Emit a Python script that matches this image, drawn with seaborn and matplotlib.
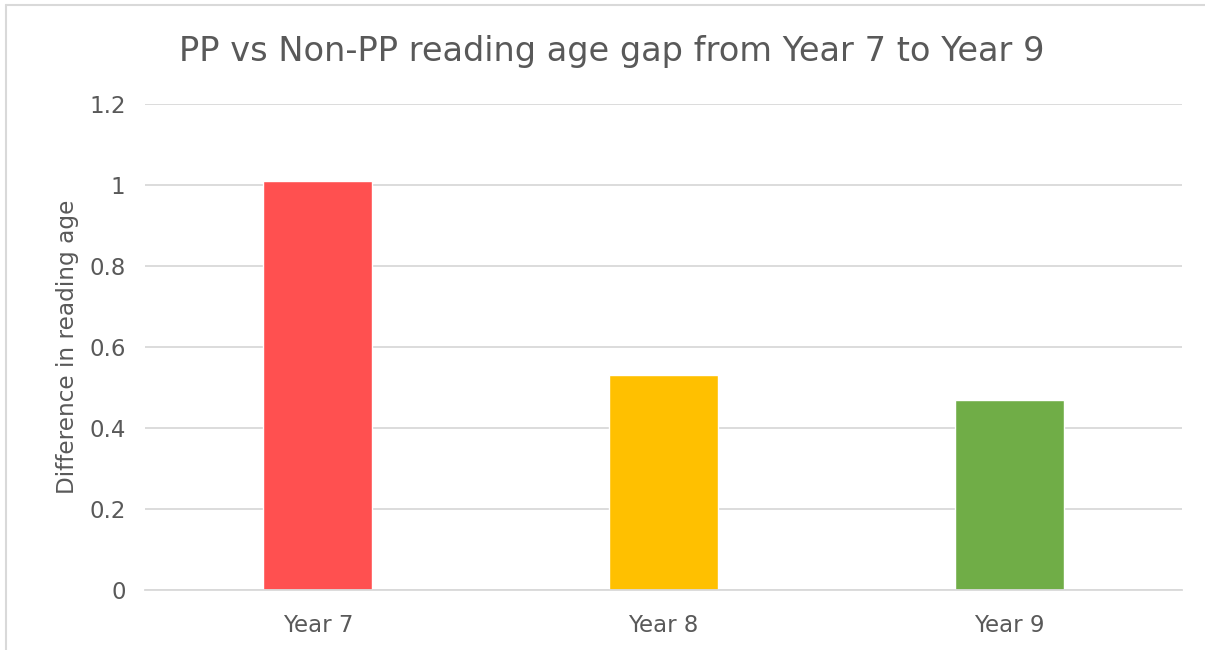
import matplotlib
matplotlib.use('Agg')
import matplotlib.pyplot as plt
import seaborn as sns
import pandas as pd

years = ['Year 7', 'Year 8', 'Year 9']
gap = [1.01, 0.53, 0.47]
colours = ['#FF5050', '#FFC000', '#70AD47']

df = pd.DataFrame({'year': years, 'gap': gap})

sns.set_style('white')
plt.rcParams['font.family'] = ['DejaVu Sans']

fig = plt.figure(figsize=(12.05, 6.5), dpi=100)
ax = fig.add_axes([0.1203, 0.0923, 0.8607, 0.7477])

sns.barplot(data=df, x='year', y='gap', hue='year', palette=colours,
            width=0.315, legend=False, saturation=1, ax=ax)

ax.set_ylim(0, 1.2)
ax.set_yticks([0, 0.2, 0.4, 0.6, 0.8, 1, 1.2])
ax.set_yticklabels(['0', '0.2', '0.4', '0.6', '0.8', '1', '1.2'])
ax.yaxis.grid(True, color='#D9D9D9', linewidth=1.3)
ax.set_axisbelow(True)
for s in ['top', 'right', 'left']:
    ax.spines[s].set_visible(False)
ax.spines['bottom'].set_color('#D9D9D9')
ax.spines['bottom'].set_linewidth(1.3)
ax.tick_params(axis='both', length=0, labelsize=16.5, labelcolor='#595959', pad=17)
ax.tick_params(axis='y', pad=14)
ax.set_xlabel('')
ax.set_ylabel('Difference in reading age', fontsize=16.7, color='#595959', labelpad=7)

fig.text(0.508, 0.92, 'PP vs Non-PP reading age gap from Year 7 to Year 9',
         ha='center', va='center', fontsize=24.2, color='#595959')

# outer chart border (left and top edges visible)
fig.add_artist(plt.Line2D([0.005, 1.0], [0.992, 0.992], color='#D9D9D9', linewidth=1.5))
fig.add_artist(plt.Line2D([0.005, 0.005], [0.0, 0.992], color='#D9D9D9', linewidth=1.5))

fig.savefig('out.png', dpi=100)
